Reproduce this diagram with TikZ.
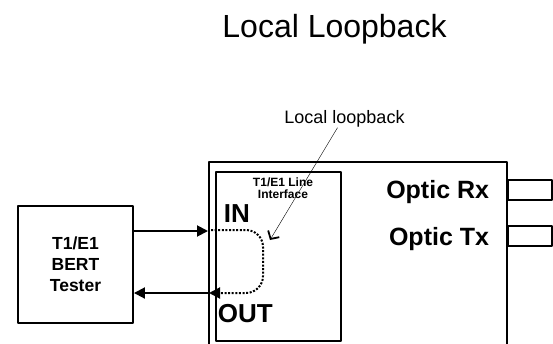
\documentclass[tikz,border=0pt]{standalone}
\usepackage{fontspec}
\setmainfont{Liberation Sans}
\usetikzlibrary{arrows.meta}
\newcommand{\fs}[1]{\fontsize{#1}{#1}\selectfont}
\begin{document}
\begin{tikzpicture}[x=1pt, y=-1pt, line join=round, line width=1.9pt,
  >={Triangle[length=11pt,width=11pt]},
  txt/.style={inner sep=0pt, anchor=base},
  loopline/.style={line width=2pt, dash pattern=on 2pt off 1.6pt, rounded corners=17pt}]
\useasboundingbox (0,0) rectangle (553,343);
% title and callout
\node[txt, font=\fs{32}] (title) at (334.5,37) {Local Loopback};
\node[txt, font=\fs{18}] (lbl) at (344.5,123) {Local loopback};
% tester
\node[draw, minimum width=115pt, minimum height=117pt, align=center,
  font=\bfseries\fontsize{17.5}{21}\selectfont] (bert) at (75.5,264.5) {T1/E1\\BERT\\Tester};
% unit and line interface
\path (209,344)coordinate(ubl)++(0,-182)coordinate(utl)++(298,0)coordinate(utr)++(0,182)coordinate(ubr);
\draw (ubl)--(utl)--(utr)--(ubr);
\path (216,172)coordinate(lif1)(341,341)coordinate(lif2);
\draw (lif1) rectangle (lif2);
\node[align=center, inner sep=0pt, anchor=north, font=\bfseries\fontsize{12}{12}\selectfont] (lifl) at (283,177) {T1/E1 Line\\Interface};
\node[txt, font=\bfseries\fs{26}, anchor=base west] (in) at (223,222) {IN};
\node[txt, font=\bfseries\fs{26}, anchor=base west] (out) at (217,322) {OUT};
% optic ports
\node[draw, minimum width=44pt, minimum height=20pt, anchor=west] (rx) at (utr |- 0,190) {};
\node[draw, minimum width=44pt, minimum height=20pt, anchor=west] (tx) at (utr |- 0,236) {};
\node[txt, font=\bfseries\fs{25}, anchor=base east] (rxl) at (490,198) {Optic Rx};
\node[txt, font=\bfseries\fs{25}, anchor=base east] (txl) at (490,245) {Optic Tx};
% signal paths
\path (208,231)coordinate(inE)(209,293)coordinate(outE)(211,230)coordinate(loopS);
\draw[->] (bert.east |- inE) -- (inE);
\draw[->] (outE) -- (bert.east |- outE);
\draw[loopline, ->] (loopS) -- (263,230) -- (263,293) -- (outE);
\coordinate (tip) at (270,240);
\draw[line width=0.4pt, -{Straight Barb[length=6pt,width=13pt,line width=1.8pt]}] ([xshift=-7pt]lbl.south) -- (tip);
\end{tikzpicture}
\end{document}
